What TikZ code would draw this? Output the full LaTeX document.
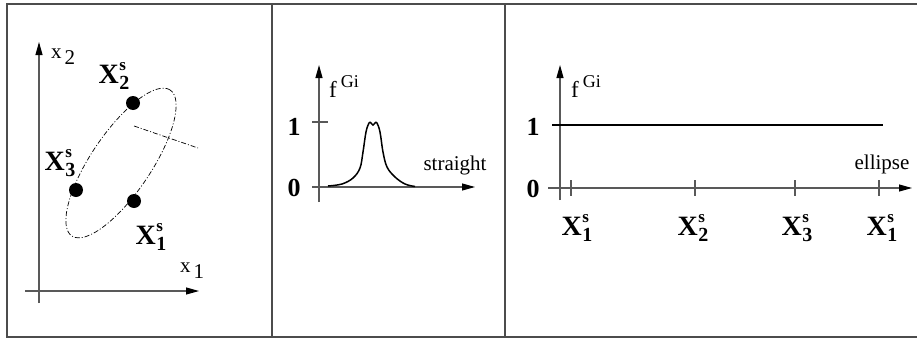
\documentclass[tikz,border=0pt]{standalone}
\usepackage{fontspec}
\setmainfont{Liberation Serif}
\usetikzlibrary{arrows.meta}
\newcommand{\Xlab}[1]{{\fontsize{28}{28}\selectfont\bfseries X}\kern0.5pt\rlap{\raisebox{13pt}{\fontsize{17}{17}\selectfont\bfseries s}}\raisebox{-6pt}{\fontsize{20}{20}\selectfont\bfseries #1}}
\newcommand{\fGi}{f\raisebox{10pt}{\kern4pt\fontsize{18}{18}\selectfont Gi}}
\begin{document}
\begin{tikzpicture}[x=1pt,y=-1pt,
  frame/.style={draw=black!70, line width=1.2pt},
  axis/.style={draw=black!65, line width=1.1pt},
  axarrow/.style={axis, -{Triangle[length=13pt,width=7pt,color=black]}},
  dashdot/.style={draw=black, line width=0.7pt, dash pattern=on 5pt off 2pt on 1pt off 2pt},
  dot/.style={circle, fill=black, inner sep=0pt, minimum size=14pt},
  txt/.style={inner sep=0pt, font=\fontsize{21}{21}\selectfont},
  ftxt/.style={inner sep=0pt, font=\fontsize{23}{23}\selectfont},
  num/.style={inner sep=0pt, font=\fontsize{26}{26}\selectfont\bfseries},
  xl/.style={inner sep=0pt}]
\useasboundingbox (0,0) rectangle (917,340);
% frame
\coordinate (ftr) at (917,4);
\coordinate (ftl) at (7,4);
\coordinate (fbl) at (7,337);
\coordinate (fbr) at (917,337);
\draw[frame] (ftr) -- (ftl) -- (fbl) -- (fbr);
\coordinate (d1t) at (272,4); \coordinate (d1b) at (272,337);
\coordinate (d2t) at (505,4); \coordinate (d2b) at (505,337);
\draw[frame] (d1t) -- (d1b);
\draw[frame] (d2t) -- (d2b);

% ---------- panel 1 ----------
\coordinate (ay0) at (39,303); \coordinate (ay1) at (39,42);
\coordinate (ax0) at (25,291); \coordinate (ax1) at (199,291);
\draw[axarrow] (ay0) -- (ay1);
\draw[axarrow] (ax0) -- (ax1);
\node[txt] (lx2) at (63,57) {x\raisebox{-6pt}{\kern3pt 2}};
\node[txt] (lx1) at (192,271) {x\raisebox{-6pt}{\kern3pt 1}};
\coordinate (ec) at (121,163);
\draw[dashdot, rotate around={56:(ec)}] (ec) ellipse [x radius=88pt, y radius=30pt];
\coordinate (m0) at (134,126); \coordinate (m1) at (198,148);
\draw[dashdot] (m0) -- (m1);
\node[dot] (p2) at (133,103) {};
\node[dot] (p3) at (76,190) {};
\node[dot] (p1) at (134,201) {};
\node[xl] (l2) at (114,76) {\Xlab{2}};
\node[xl] (l3) at (60,163) {\Xlab{3}};
\node[xl] (l1) at (151,237) {\Xlab{1}};

% ---------- panel 2 ----------
\coordinate (by0) at (319,202); \coordinate (by1) at (319,65);
\coordinate (bx0) at (312,187); \coordinate (bx1) at (475,187);
\coordinate (bt0) at (312,122); \coordinate (bt1) at (328,122);
\draw[axarrow] (by0) -- (by1);
\draw[axarrow] (bx0) -- (bx1);
\draw[axis] (bt0) -- (bt1);
\node[num] (b1) at (294,127) {1};
\node[num] (b0) at (294,188) {0};
\node[ftxt, anchor=base west] (bf) at (329,97) {\fGi};
\node[txt] (bs) at (455,165) {straight};
\draw[black, line width=1.5pt] plot[smooth, tension=0.6] coordinates {(328,186) (342,184) (353,178) (360,168) (363,152) (366,132) (369,123) (371,123) (373,125) (375,123) (377,123) (380,132) (383,152) (387,167) (395,177) (405,184) (415,186.5)};

% ---------- panel 3 ----------
\coordinate (cy0) at (560,200); \coordinate (cy1) at (560,65);
\coordinate (cx0) at (548,188); \coordinate (cx1) at (912,188);
\draw[axarrow] (cy0) -- (cy1);
\draw[axarrow] (cx0) -- (cx1);
\coordinate (h0) at (552,125); \coordinate (h1) at (883,125);
\draw[black, line width=1.3pt] (h0) -- (h1);
\foreach \n/\x in {t1/571, t2/695, t3/795, t4/879} {
  \coordinate (\n a) at (\x,180); \coordinate (\n b) at (\x,196);
  \draw[axis] (\n a) -- (\n b);
}
\node[num] (c1) at (533,127) {1};
\node[num] (c0) at (533,189) {0};
\node[ftxt, anchor=base west] (cf) at (571,97) {\fGi};
\node[txt] (ce) at (882,164) {ellipse};
\node[xl] (q1) at (577,228) {\Xlab{1}};
\node[xl] (q2) at (693,228) {\Xlab{2}};
\node[xl] (q3) at (797,228) {\Xlab{3}};
\node[xl] (q4) at (882,228) {\Xlab{1}};
\end{tikzpicture}
\end{document}
